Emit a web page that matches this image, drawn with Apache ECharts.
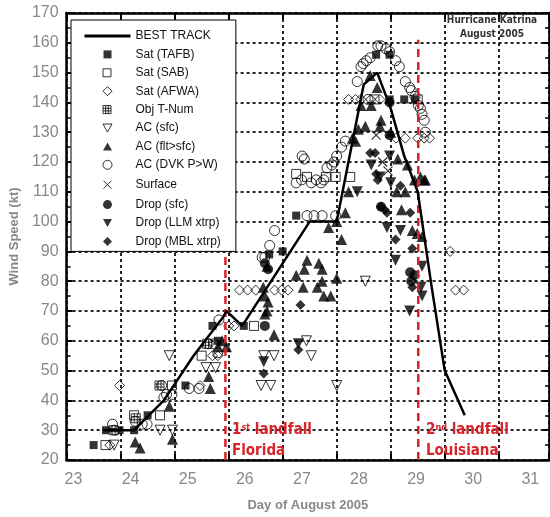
<!DOCTYPE html>
<html>
<head>
<meta charset="utf-8">
<script src="https://cdn.jsdelivr.net/npm/echarts@6/dist/echarts.min.js"></script>
<style>
  html, body { margin: 0; padding: 0; background: #fff; }
  #chart { width: 550px; height: 517px; }
</style>
</head>
<body>
<div id="chart"></div>
<script>
// day of August 2005, wind speed (kt)
var dayLabels = [23, 24, 25, 26, 27, 28, 29, 30, 31];
var bestTrack = [[23.7,30],[24.25,30],[24.8,40],[25.35,55],[25.9,68],[25.96,70],[26.25,65],[27.5,100],[28.0,100],[28.5,146],[28.75,150],[29.0,138],[29.25,122],[29.5,110],[29.75,79],[30.0,50],[30.37,35]];
var satTAFB = [[23.5,25],[23.73,30],[23.98,30],[24.25,30],[24.5,35],[25.2,45],[25.7,65],[25.8,60],[26.28,65],[26.75,89],[27.0,90],[27.25,102],[28.73,156],[28.98,156],[28.98,141],[29.25,141],[29.45,141]];
var satSAB = [[23.72,25],[24.25,35],[24.73,35],[24.95,45],[25.5,55],[26.47,65],[27.25,116],[27.45,115],[27.8,115],[27.98,115],[28.25,115],[28.7,141],[29.5,141]];
var satAFWA = [[23.8,25],[23.98,45],[25.47,45],[25.7,55],[25.8,55],[26.0,65],[26.1,65],[26.2,77],[26.35,77],[26.5,77],[26.85,77],[26.98,77],[27.1,77],[28.22,141],[28.35,141],[28.45,141],[28.63,141],[28.8,141],[29.1,128],[29.27,128],[29.5,128],[29.62,128],[29.72,128],[30.1,90],[30.2,77],[30.35,77]];
var objTNum = [[23.87,30],[24.28,34],[24.72,45],[25.6,59]];
var acSfc = [[23.88,25],[24.73,30],[24.96,30],[24.9,55],[25.58,51],[25.76,51],[26.65,55],[26.84,55],[26.6,45],[26.78,45],[27.44,60],[27.53,55],[28.0,45],[28.53,80]];
var acFlt = [[24.27,26],[24.36,24],[24.96,27],[24.9,38],[25.63,48],[25.66,44],[25.8,58],[25.88,60],[25.96,58],
  [26.64,78],[26.67,75],[26.71,85],[26.67,69],[26.73,73],[26.71,70],[26.84,62],
  [27.25,82],[27.4,84],[27.38,78],[27.64,78],[27.73,80],[27.76,75],[27.73,84],[28.0,81],[27.89,75],[27.45,87],[27.67,86],
  [27.85,98],[28.09,94],[28.16,103],[28.0,100],[28.22,110],[28.35,127],[28.29,128],[28.4,131],[28.45,139],[28.53,132],[28.64,139],[28.62,149],[28.75,145],[28.82,134],[28.8,132],[29.0,130],
  [29.13,121],[29.31,119],[29.55,115],[29.64,114],[29.11,110],[29.27,110],[29.2,104],[29.4,97],[29.49,96],[29.58,95],[29.44,114],[29.62,114]];
var acDVK = [[23.85,32],[23.89,30],[24.27,33],[24.4,32],[24.49,32],[24.8,41],[24.85,42],[24.95,42],[24.76,45],[25.27,44],[25.45,44],[25.62,59],[25.73,59],[25.8,56],[25.82,67],
  [26.62,88],[26.67,88],[26.76,92],[26.85,97],[27.25,113],[27.35,114],[27.36,122],[27.4,121],[27.53,113],[27.62,114],[27.71,113],[27.76,114],[27.82,118],[27.91,119],[27.95,120],[28.0,122],[28.09,125],[28.16,127],
  [27.45,102],[27.58,102],[27.73,102],[27.98,102],[28.38,147],[28.45,152],[28.49,153],[28.55,154],[28.62,155],[28.76,159],[28.82,159],[28.91,158],[28.98,157],[29.09,154],[29.16,152],
  [29.27,147],[29.35,145],[29.38,144],[29.45,142],[29.51,139],[29.55,138],[29.58,136],[29.62,134],[29.64,130],[28.58,141]];
var surface = [[28.73,129],[28.85,120],[28.95,117]];
var dropSfc = [[26.67,86],[26.73,84],[26.67,65],[28.98,140],[28.98,129],[28.82,105],[29.36,83],[29.44,82],[29.38,80]];
var dropLLM = [[26.65,53],[27.29,59],[28.38,110],[28.64,119],[28.8,115],[28.98,122],[29.0,113],[28.93,98],[29.18,97],[29.09,87],[29.58,85],[29.56,78],[29.58,75],[29.35,70]];
var dropMBL = [[26.65,49],[27.33,72],[27.29,57],[28.62,123],[28.71,123],[28.73,116],[28.76,114],[28.82,105],[28.89,104],[28.93,103],[29.18,112],[29.36,103],[29.09,94],[29.4,91],[29.4,78]];
var landfalls = [[25.94, 89], [29.51, 161]];

var myChart = echarts.init(document.getElementById('chart'));

var gridPath = 'path://M0,0L10,0L10,10L0,10Z M3.33,0L3.33,10 M6.67,0L6.67,10 M0,3.33L10,3.33 M0,6.67L10,6.67';
var crossPath = 'path://M0,0L10,10M10,0L0,10';
var openStyle = { color: 'rgba(255,255,255,0)', borderColor: '#000', borderWidth: 1 };
var fillStyle = { color: '#000' };
var dots = { color: '#000', width: 1.7, type: [3, 3] };
var red = '#d8232a';
var sans = 'Liberation Sans, Arial, sans-serif';
var narrow = "'Liberation Sans Narrow', 'DejaVu Sans Condensed', 'Liberation Sans', sans-serif";

// legend icons: a 46x10 box (set by the two moves) with the mark in the middle
var box = 'path://M0,0M46,10';
var icons = {
    line: 'path://M0,0L46,0L46,3L0,3Z',
    fsq: box + 'M19,1L27,1L27,9L19,9Z',
    osq: box + 'M18.5,1L26.5,1L26.5,9L18.5,9Z',
    dia: box + 'M23,0.5L27.5,5L23,9.5L18.5,5Z',
    grid: box + 'M18.5,1L26.5,1L26.5,9L18.5,9Z M21.2,1L21.2,9 M23.8,1L23.8,9 M18.5,3.7L26.5,3.7 M18.5,6.3L26.5,6.3',
    down: box + 'M18.5,1L27.5,1L23,9Z',
    up: box + 'M23,1L27.5,9L18.5,9Z',
    circ: box + 'M27.5,5A4.5,4.5,0,1,1,18.5,5A4.5,4.5,0,1,1,27.5,5Z',
    cross: box + 'M19,1L27,9M27,1L19,9'
};

function scatter(name, data, symbol, size, style, rotate) {
    return {
        name: name,
        type: 'scatter',
        data: data,
        symbol: symbol,
        symbolSize: size,
        symbolRotate: rotate || 0,
        itemStyle: style,
        z: 3
    };
}

var series = [
    scatter('Sat (TAFB)', satTAFB, 'rect', 8, fillStyle),
    scatter('Sat (SAB)', satSAB, 'rect', 9, openStyle),
    scatter('Sat (AFWA)', satAFWA, 'diamond', 10, openStyle),
    scatter('Obj T-Num', objTNum, gridPath, 9, { color: '#fff', borderColor: '#000', borderWidth: 1 }),
    scatter('AC (sfc)', acSfc, 'triangle', 10, openStyle, 180),
    scatter('AC (DVK P>W)', acDVK, 'circle', 10, openStyle),
    scatter('Surface', surface, crossPath, 9, { color: 'none', borderColor: '#000', borderWidth: 1.2 }),
    scatter('AC (flt>sfc)', acFlt, 'triangle', 11, fillStyle),
    scatter('Drop (sfc)', dropSfc, 'circle', 10, fillStyle),
    scatter('Drop (LLM xtrp)', dropLLM, 'triangle', 11, fillStyle, 180),
    scatter('Drop (MBL xtrp)', dropMBL, 'diamond', 10, fillStyle),
    {
        name: 'BEST TRACK',
        type: 'line',
        data: bestTrack,
        symbol: 'none',
        lineStyle: { color: '#000', width: 2.5 },
        itemStyle: { color: '#000' },
        z: 5
    }
];
landfalls.forEach(function (lf) {
    series.push({
        type: 'line',
        data: [[lf[0], 20], [lf[0], lf[1]]],
        symbol: 'none',
        silent: true,
        lineStyle: { color: red, width: 2.5, type: [8, 5] },
        z: 4
    });
});

var option = {
    animation: false,
    backgroundColor: '#fff',
    grid: { left: 58, right: 1, top: 13, bottom: 54 },
    legend: {
        orient: 'vertical',
        left: 71,
        top: 20,
        data: [
            { name: 'BEST TRACK', icon: icons.line },
            { name: 'Sat (TAFB)', icon: icons.fsq },
            { name: 'Sat (SAB)', icon: icons.osq },
            { name: 'Sat (AFWA)', icon: icons.dia },
            { name: 'Obj T-Num', icon: icons.grid },
            { name: 'AC (sfc)', icon: icons.down },
            { name: 'AC (flt>sfc)', icon: icons.up },
            { name: 'AC (DVK P>W)', icon: icons.circ },
            { name: 'Surface', icon: icons.cross },
            { name: 'Drop (sfc)', icon: icons.circ },
            { name: 'Drop (LLM xtrp)', icon: icons.down },
            { name: 'Drop (MBL xtrp)', icon: icons.dia }
        ],
        itemWidth: 46,
        itemHeight: 10,
        itemGap: 6.4,
        symbolRotate: 0,
        itemStyle: { borderWidth: 1 },
        padding: [10, 15, 4, 11],
        backgroundColor: '#fff',
        borderColor: '#000',
        borderWidth: 1,
        borderRadius: 0,
        selectedMode: false,
        textStyle: { color: '#111', fontSize: 12, fontFamily: sans }
    },
    xAxis: [
        {
            type: 'value', min: 23, max: 31.93, interval: 1, position: 'bottom',
            axisLine: { lineStyle: { color: '#000', width: 2.5 } },
            axisTick: { inside: true, length: 6, lineStyle: { color: '#000', width: 2 } },
            axisLabel: { show: false },
            splitLine: { show: true, lineStyle: dots },
            name: 'Day of August 2005', nameLocation: 'middle', nameGap: 39,
            nameTextStyle: { color: '#888', fontSize: 13, fontWeight: 'bold', fontFamily: sans }
        },
        {
            type: 'value', min: 23, max: 31.93, interval: 1, position: 'top',
            axisLine: { lineStyle: { color: '#000', width: 2.5 } },
            axisTick: { inside: true, length: 6, lineStyle: { color: '#000', width: 2 } },
            axisLabel: { show: false },
            splitLine: { show: false }
        },
        {
            type: 'value', min: 22.88, max: 31.327, position: 'bottom',
            axisLine: { show: false }, axisTick: { show: false }, splitLine: { show: false },
            axisLabel: { customValues: dayLabels, margin: 12, color: '#888', fontSize: 16, fontFamily: sans }
        }
    ],
    yAxis: [
        {
            type: 'value', min: 20, max: 170, interval: 10, position: 'left',
            axisLine: { show: true, lineStyle: { color: '#000', width: 2.5 } },
            axisTick: { show: true, inside: true, length: 6, lineStyle: { color: '#000', width: 2 } },
            minorTick: { show: true, splitNumber: 2, length: 4, lineStyle: { color: '#000', width: 1.5 } },
            axisLabel: { margin: 8, color: '#888', fontSize: 16, fontFamily: sans },
            splitLine: { show: true, lineStyle: dots },
            name: 'Wind Speed (kt)', nameLocation: 'middle', nameGap: 37,
            nameTextStyle: { color: '#888', fontSize: 13, fontWeight: 'bold', fontFamily: sans }
        },
        {
            type: 'value', min: 20, max: 170, interval: 10, position: 'right',
            axisLine: { show: true, lineStyle: { color: '#000', width: 2.5 } },
            axisTick: { show: true, inside: true, length: 6, lineStyle: { color: '#000', width: 2 } },
            minorTick: { show: true, splitNumber: 2, length: 4, lineStyle: { color: '#000', width: 1.5 } },
            axisLabel: { show: false },
            splitLine: { show: false }
        }
    ],
    graphic: [
        { type: 'text', left: 232, top: 423, z: 10, style: {
            text: '{n|1}{s|st}{n| landfall}', fill: red,
            rich: { n: { fontSize: 15, fontWeight: 'bold', fontFamily: narrow, fill: red },
                    s: { fontSize: 9, fontWeight: 'bold', fontFamily: narrow, fill: red, verticalAlign: 'top' } } } },
        { type: 'text', left: 232, top: 444, z: 10, style: {
            text: 'Florida', fill: red, fontSize: 15, fontWeight: 'bold', fontFamily: narrow } },
        { type: 'text', left: 426, top: 423, z: 10, style: {
            text: '{n|2}{s|nd}{n| landfall}', fill: red,
            rich: { n: { fontSize: 15, fontWeight: 'bold', fontFamily: narrow, fill: red },
                    s: { fontSize: 9, fontWeight: 'bold', fontFamily: narrow, fill: red, verticalAlign: 'top' } } } },
        { type: 'text', left: 426, top: 444, z: 10, style: {
            text: 'Louisiana', fill: red, fontSize: 15, fontWeight: 'bold', fontFamily: narrow } },
        { type: 'text', x: 492, y: 13, z: 10, style: {
            text: 'Hurricane Katrina\nAugust 2005', fill: '#333', fontSize: 10, lineHeight: 14,
            fontWeight: 'bold', fontFamily: narrow, align: 'center' } }
    ],
    series: series
};

myChart.setOption(option);
</script>
</body>
</html>
